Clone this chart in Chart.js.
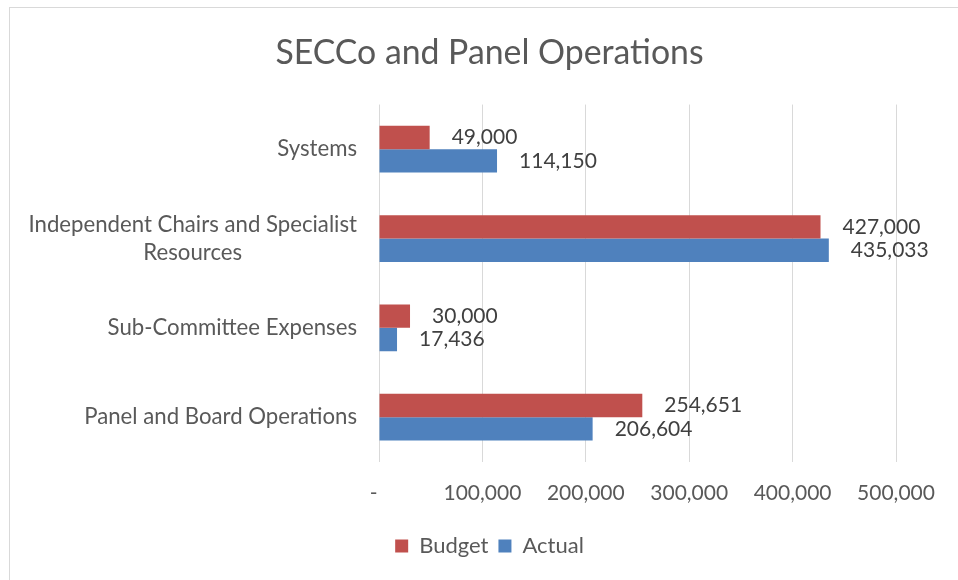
<!DOCTYPE html>
<html>
<head>
<meta charset="utf-8">
<script src="https://cdn.jsdelivr.net/npm/chart.js@4"></script>
<style>
  html, body { margin: 0; padding: 0; background: #ffffff; overflow: hidden; }
  #frame { position: absolute; left: 9px; top: 7px; width: 960px; height: 580px;
           border-left: 1px solid #d9d9d9; border-top: 1px solid #d9d9d9; background: #fff; }
  #wrap { position: absolute; left: 0; top: 0; width: 960px; height: 572px; }
</style>
</head>
<body>
<div id="frame"><div id="wrap"><canvas id="c"></canvas></div></div>
<script>
const categories = [
  "Systems",
  ["Independent Chairs and Specialist", "Resources"],
  "Sub-Committee Expenses",
  "Panel and Board Operations"
];
const budgetValues = [49000, 427000, 30000, 254651];
const actualValues = [114150, 435033, 17436, 206604];
const xTicks = [0, 100000, 200000, 300000, 400000, 500000];
const seriesNames = ["Budget", "Actual"];

const FONT = "Lato";
const AXIS_COLOR = "#595959";
const LABEL_COLOR = "#404040";

const fmt = v => v === 0 ? "-  " : v.toLocaleString("en-US");

const dataLabels = {
  id: "dataLabels",
  afterDatasetsDraw(chart) {
    const ctx = chart.ctx;
    ctx.save();
    ctx.font = "21px " + FONT;
    ctx.fillStyle = LABEL_COLOR;
    ctx.textAlign = "left";
    ctx.textBaseline = "middle";
    chart.data.datasets.forEach((ds, di) => {
      const meta = chart.getDatasetMeta(di);
      meta.data.forEach((el, i) => {
        ctx.fillText(ds.data[i].toLocaleString("en-US"), el.x + 22, el.y);
      });
    });
    ctx.restore();
  }
};

const catLabels = {
  id: "catLabels",
  afterDraw(chart) {
    const ctx = chart.ctx;
    const scale = chart.scales.y;
    const right = chart.chartArea.left - 22;
    const lh = 28;
    ctx.save();
    ctx.font = "22.2px " + FONT;
    ctx.fillStyle = AXIS_COLOR;
    ctx.textAlign = "center";
    ctx.textBaseline = "middle";
    chart.data.labels.forEach((lab, i) => {
      const lines = Array.isArray(lab) ? lab : [lab];
      const maxW = Math.max(...lines.map(l => ctx.measureText(l).width));
      const cx = right - maxW / 2;
      const cy = scale.getPixelForTick(i);
      lines.forEach((l, j) => {
        ctx.fillText(l, cx, cy + (j - (lines.length - 1) / 2) * lh);
      });
    });
    ctx.restore();
  }
};

new Chart(document.getElementById("c"), {
  type: "bar",
  data: {
    labels: categories,
    datasets: [
      { label: seriesNames[0], data: budgetValues, backgroundColor: "#C0504D", borderWidth: 0 },
      { label: seriesNames[1], data: actualValues, backgroundColor: "#4F81BD", borderWidth: 0 }
    ]
  },
  options: {
    indexAxis: "y",
    responsive: true,
    maintainAspectRatio: false,
    animation: false,
    datasets: { bar: { categoryPercentage: 0.524, barPercentage: 1.0 } },
    layout: { padding: { left: 73, right: 74, top: 0, bottom: 13 } },
    scales: {
      x: {
        min: 0, max: 500000,
        afterBuildTicks(scale) { scale.ticks = xTicks.map(v => ({ value: v })); },
        grid: { color: "#d9d9d9", lineWidth: 1, drawTicks: false },
        border: { display: false },
        ticks: {
          padding: 19,
          color: AXIS_COLOR,
          font: { family: FONT, size: 21 },
          maxRotation: 0,
          callback: v => fmt(v)
        }
      },
      y: {
        grid: { display: false, drawTicks: false },
        border: { display: false },
        ticks: { color: "rgba(0,0,0,0)", font: { family: FONT, size: 21 }, padding: 22 },
        afterFit(scale) { scale.width = 296; }
      }
    },
    plugins: {
      title: {
        display: true,
        text: "SECCo and Panel Operations",
        color: AXIS_COLOR,
        font: { family: FONT, size: 33.8, weight: "normal" },
        padding: { top: 25, bottom: 31 }
      },
      legend: {
        position: "bottom",
        labels: {
          color: AXIS_COLOR,
          font: { family: FONT, size: 22 },
          boxWidth: 13, boxHeight: 13,
          padding: 10
        }
      },
      tooltip: { enabled: false }
    }
  },
  plugins: [dataLabels, catLabels]
});
</script>
</body>
</html>
